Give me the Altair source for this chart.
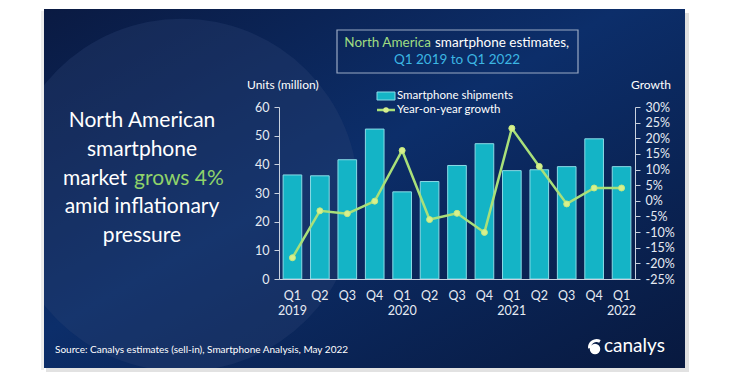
import altair as alt
import pandas as pd

# ---------------- data ----------------
periods = ["Q1 2019", "Q2 2019", "Q3 2019", "Q4 2019",
           "Q1 2020", "Q2 2020", "Q3 2020", "Q4 2020",
           "Q1 2021", "Q2 2021", "Q3 2021", "Q4 2021",
           "Q1 2022"]
shipments = [36.3, 36.0, 41.6, 52.3, 30.4, 34.0, 39.6, 47.2, 37.8, 38.1, 39.2, 48.9, 39.2]
growth = [-18.2, -3.2, -4.1, -0.1, 16.1, -6.0, -4.0, -10.1, 23.2, 11.0, -1.0, 4.1, 4.1]
growth_ticks = [-25, -20, -15, -10, -5, 0, 5, 10, 15, 20, 25, 30]
units_ticks = [0, 10, 20, 30, 40, 50, 60]

df = pd.DataFrame({"period": periods, "shipments": shipments, "growth": growth})

FONT = "Lato"
W, H = 356, 172
OX, OY = 279, 107  # page position of plot origin


def px(x):
    return x - OX


def py(y):
    return y - OY


one = pd.DataFrame({"a": [0]})


def rect(x1, y1, x2, y2, **kw):
    return alt.Chart(one).mark_rect(**kw).encode(
        x=alt.value(px(x1)), x2=alt.value(px(x2)),
        y=alt.value(py(y1)), y2=alt.value(py(y2)))


def text(t, x, y, size, color="white", align="left", weight="normal", baseline="middle"):
    return alt.Chart(pd.DataFrame({"t": [t]})).mark_text(
        font=FONT, fontSize=size, color=color, align=align,
        baseline=baseline, fontWeight=weight).encode(
        x=alt.value(px(x)), y=alt.value(py(y)), text="t:N")


# ---------------- background ----------------
panel = rect(44, 9, 685, 368, fill=alt.Gradient(
    gradient="linear", x1=0, y1=0, x2=1, y2=1,
    stops=[alt.GradientStop(color="#0a1a42", offset=0),
           alt.GradientStop(color="#0c2e6a", offset=0.45),
           alt.GradientStop(color="#08193f", offset=1)]))

swoosh = alt.Chart(one).mark_circle(size=124400, color="#2b4274", opacity=0.35).encode(
    x=alt.value(px(182)), y=alt.value(py(195)))

masks = [
    rect(0, 0, 44, 383, fill="white"),
    rect(0, 0, 732, 9, fill="white"),
    rect(0, 368, 732, 383, fill="white"),
    rect(685, 0, 732, 383, fill="white"),
]
shadows = [
    rect(41, 11, 44, 370, fill="#ececec"),
    rect(685, 13, 689, 372, fill="#e0e0e0"),
    rect(46, 368, 689, 372, fill="#e2e2e2"),
]

title_box = rect(337, 30, 578, 73, fill="#0c2a60", fillOpacity=0, stroke="#9aa9c4", strokeWidth=1.2)

texts = [
    text("North America", 431, 43, 13.5, color="#9fdc82", align="right"),
    text("smartphone estimates,", 435, 43, 13.5),
    text("Q1 2019 to Q1 2022", 457, 60, 13.5, color="#3cb6e3", align="center"),
    text("North American", 142, 121, 21, align="center"),
    text("smartphone", 142, 150, 21, align="center"),
    text("market", 127, 179, 21, align="right"),
    text("grows 4%", 134, 179, 21, color="#8fd36a"),
    text("amid inflationary", 142, 207, 21, align="center"),
    text("pressure", 142, 236, 21, align="center"),
    text("Units (million)", 247, 85, 12),
    text("Growth", 671, 85, 12, align="right"),
    text("Source: Canalys estimates (sell-in), Smartphone Analysis, May 2022", 55, 350, 10),
    text("canalys", 604, 346, 19),
    # legend labels
    text("Smartphone shipments", 397, 96, 11.5),
    text("Year-on-year growth", 397, 110, 11.5),
]

logo_dot = alt.Chart(one).mark_circle(size=110, color="white", opacity=1).encode(
    x=alt.value(px(595)), y=alt.value(py(349)))
logo_tail = alt.Chart(one).mark_arc(radius=8.5, radius2=5.5, theta=4.6, theta2=6.8, color="white").encode(
    x=alt.value(px(596.5)), y=alt.value(py(347.5)))

legend_swatch = rect(377, 92, 395, 100, fill="#14b4c6", stroke="#8adbe6", strokeWidth=1)
legend_line = alt.Chart(one).mark_rule(color="#a9e07a", strokeWidth=2.5).encode(
    x=alt.value(px(377)), x2=alt.value(px(395)), y=alt.value(py(110)))
legend_pt = alt.Chart(one).mark_circle(size=30, color="#d8f08e", opacity=1).encode(
    x=alt.value(px(386)), y=alt.value(py(110)))

# ---------------- data marks ----------------
xenc = alt.X("period:N", sort=periods, title=None,
             scale=alt.Scale(paddingInner=0.32, paddingOuter=0.15),
             axis=alt.Axis(labelAngle=0, ticks=False, labelPadding=10, labelFontSize=12.5,
                           labelColor="#e6ebf3", labelFont=FONT, domainColor="#c9d1de",
                           labelLineHeight=15, zindex=2,
                           labelExpr="split(datum.value,' ')[0] == 'Q1' ? split(datum.value,' ') : split(datum.value,' ')[0]"))

bars = alt.Chart(df).mark_bar(fill="#14b4c6", stroke="#8adbe6", strokeWidth=1).encode(
    x=xenc,
    y=alt.Y("shipments:Q", title=None, scale=alt.Scale(domain=[0, 60], nice=False),
            axis=alt.Axis(values=units_ticks, orient="left", grid=False, tickSize=5,
                          labelPadding=5, labelFontSize=12.5, labelColor="#e6ebf3",
                          labelFont=FONT, domainColor="#c9d1de", tickColor="#c9d1de",
                          zindex=2)))

line_base = alt.Chart(df).encode(
    x=alt.X("period:N", sort=periods),
    y=alt.Y("growth:Q", title=None, scale=alt.Scale(domain=[-25, 30], nice=False),
            axis=alt.Axis(values=growth_ticks, orient="right", grid=False, tickSize=5,
                          labelPadding=5, labelFontSize=12.5, labelColor="#e6ebf3",
                          labelFont=FONT, domainColor="#c9d1de", tickColor="#c9d1de",
                          labelExpr="datum.value + '%'", zindex=2)))
line = line_base.mark_line(color="#a9e07a", strokeWidth=2.5)
pts = line_base.mark_circle(size=36, color="#d8f08e", opacity=1, stroke="#c4ea7e", strokeWidth=1)

growth_layer = alt.layer(line, pts)

background = alt.layer(panel, swoosh, *masks, *shadows, title_box, *texts,
                       logo_dot, logo_tail, legend_swatch, legend_line, legend_pt)

chart = alt.layer(background, bars, growth_layer).resolve_scale(y="independent").properties(
    width=W, height=H,
    padding={"left": 271, "top": 99, "right": 89, "bottom": 96},
    autosize=alt.AutoSizeParams(type="none"),
    background="white",
).configure_view(stroke=None)

chart.save("out.html", embed_options={"renderer": "svg", "actions": False})
